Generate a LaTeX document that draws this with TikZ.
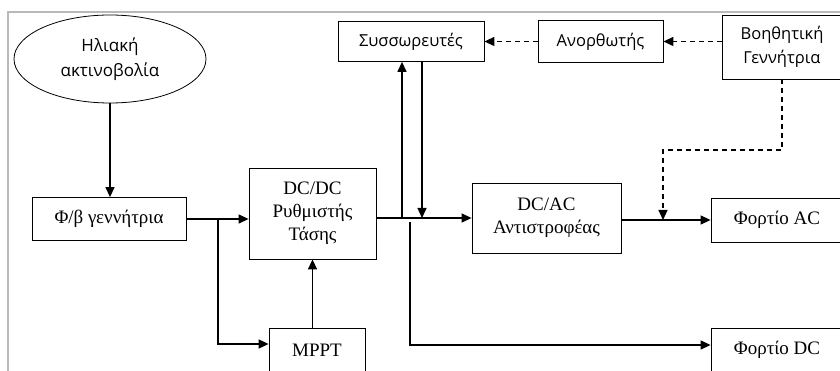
\documentclass[tikz,border=0pt]{standalone}
\usepackage{fontspec}
\setmainfont{Liberation Serif}
\newfontfamily\grsans{Open Sans}
\usetikzlibrary{arrows.meta,shapes.geometric}

\tikzset{
  blk/.style={draw, line width=0.8pt, rectangle, inner sep=0pt, align=center, font=\fontsize{19}{23}\selectfont},
  sblk/.style={blk, font=\grsans\fontsize{16.5}{24}\selectfont},
  flow/.style={line width=1.3pt, -{Triangle[length=10pt,width=9pt]}},
  aux/.style={flow, dash pattern=on 5pt off 4pt},
}

\begin{document}
\begin{tikzpicture}[x=1pt, y=-1pt]
\useasboundingbox (0,0) rectangle (840,371);
% frame of the figure, only top and left edges show
\draw[line width=1.2pt, gray!55] (8,371) -- (8,12) -- (840,12);
% blocks
\node[ellipse, draw, line width=0.8pt, minimum width=192pt, minimum height=88pt, align=center, font=\grsans\fontsize{17}{25}\selectfont] (sun) at (110,59) {Ηλιακή\\ακτινοβολία};
\node[blk, minimum width=154pt, minimum height=43pt] (pv) at (109,219) {Φ/β γεννήτρια};
\node[blk, minimum width=127pt, minimum height=91pt] (dcdc) at (312.5,213.5) {DC/DC\\Ρυθμιστής\\Τάσης};
\node[blk, minimum width=96pt, minimum height=44pt] (mppt) at (317,350) {MPPT};
\node[sblk, minimum width=146pt, minimum height=40pt] (batt) at (411,41.5) {Συσσωρευτές};
\node[sblk, minimum width=125pt, minimum height=42pt] (rect) at (600.5,41.5) {Ανορθωτής};
\node[sblk, minimum width=120pt, minimum height=64pt] (gen) at (782,47) {Βοηθητική\\Γεννήτρια};
\node[blk, minimum width=149pt, minimum height=70pt] (dcac) at (546.5,218) {DC/AC\\Αντιστροφέας};
\node[blk, minimum width=132pt, minimum height=44pt] (acload) at (777,220) {Φορτίο AC};
\node[blk, minimum width=132pt, minimum height=44pt] (dcload) at (777,350) {Φορτίο DC};
% junctions
\coordinate (br) at (218,219);
\coordinate (up) at (402,218);
\coordinate (dn) at (422,218);
\coordinate (dcb) at (410,222);
\coordinate (knee) at (663,150);
\coordinate (acin) at (663,220);
% connectors
\draw[flow] (sun.south) -- (sun.south |- pv.north);
\draw[flow] (pv.east) -- (pv.east -| dcdc.west);
\draw[flow] (br) |- ([yshift=6pt]mppt.west);
\draw[flow] (dcdc.south |- mppt.north) -- (dcdc.south);
\draw[flow] (dcdc.east |- dcac.west) -- (dcac.west);
\draw[flow] (up) -- (up |- batt.south);
\draw[flow] (dn |- batt.south) -- (dn);
\draw[flow] (dcb) |- ([yshift=5pt]dcload.west);
\draw[flow] (dcac.east |- acload.west) -- (acload.west);
% auxiliary generator paths
\draw[aux] (gen.west |- rect.east) -- (rect.east);
\draw[aux] (rect.west) -- (batt.east);
\draw[aux] (gen.south) |- (knee) -- (acin);
\end{tikzpicture}
\end{document}
